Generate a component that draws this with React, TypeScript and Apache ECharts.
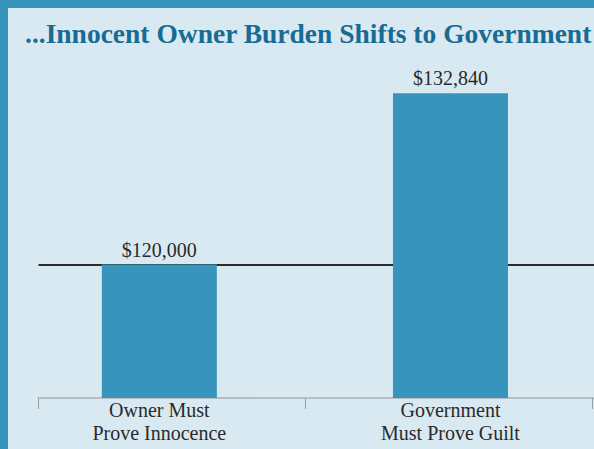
import React, { useEffect, useRef } from "react";
import * as echarts from "echarts";

const categories = ["Owner Must\nProve Innocence", "Government\nMust Prove Guilt"];
const values = [120000, 132840];
const referenceValue = 120000;
const titleText = "...Innocent Owner Burden Shifts to Government";

const TEAL = "#3795bc";
const BG = "#d9e9f2";
const FONT = "'Liberation Serif', 'Times New Roman', serif";

const fmt = (v: number) => "$" + v.toLocaleString("en-US");

export default function App() {
  const ref = useRef<HTMLDivElement>(null);
  useEffect(() => {
    if (!ref.current) return;
    const chart = echarts.init(ref.current, undefined, { renderer: "svg" });
    const xMin = -0.415;
    const xMax = 1.493;
    chart.setOption({
      animation: false,
      backgroundColor: BG,
      title: {
        text: titleText,
        left: 17,
        top: 11,
        padding: 0,
        textStyle: { fontFamily: FONT, fontSize: 27.5, fontWeight: "bold", color: "#186b93" },
      },
      grid: { left: 30.5, right: 0, top: 56.5, bottom: 51, containLabel: false },
      xAxis: {
        type: "value",
        min: xMin,
        max: xMax,
        splitLine: { show: false },
        axisLine: { show: true, lineStyle: { color: "#aab0b4", width: 1.5 } },
        axisTick: {
          show: true,
          length: 11,
          lineStyle: { color: "#9a9fa3", width: 1 },
          customValues: [xMin, 0.5, 1.486],
        },
        axisLabel: {
          show: true,
          customValues: [0, 1],
          margin: 0,
          formatter: (v: number) => categories[Math.round(v)] ?? "",
          fontFamily: FONT,
          fontSize: 20,
          lineHeight: 23,
          color: "#2a2a2a",
        },
      },
      yAxis: { type: "value", min: 110000, max: 135000, show: false },
      series: [
        {
          type: "line",
          data: [],
          z: 1,
          markLine: {
            z: 1,
            silent: true,
            symbol: "none",
            label: { show: false },
            lineStyle: { color: "#2b2b2b", width: 2, type: "solid" },
            data: [{ yAxis: referenceValue }],
          },
        },
        {
          type: "bar",
          z: 3,
          barWidth: 115,
          itemStyle: { color: TEAL },
          data: values.map((v, i) => [i, v]),
          label: {
            show: true,
            position: "top",
            distance: 5,
            fontFamily: FONT,
            fontSize: 20,
            color: "#2a2a2a",
            formatter: (p: any) => fmt(p.value[1]),
          },
        },
      ],
    });
    return () => chart.dispose();
  }, []);
  return (
    <div style={{ position: "fixed", left: 0, top: 0, width: 594, height: 449, background: TEAL }}>
      <div ref={ref} style={{ position: "absolute", left: 8, top: 8, width: 586, height: 441 }} />
    </div>
  );
}
